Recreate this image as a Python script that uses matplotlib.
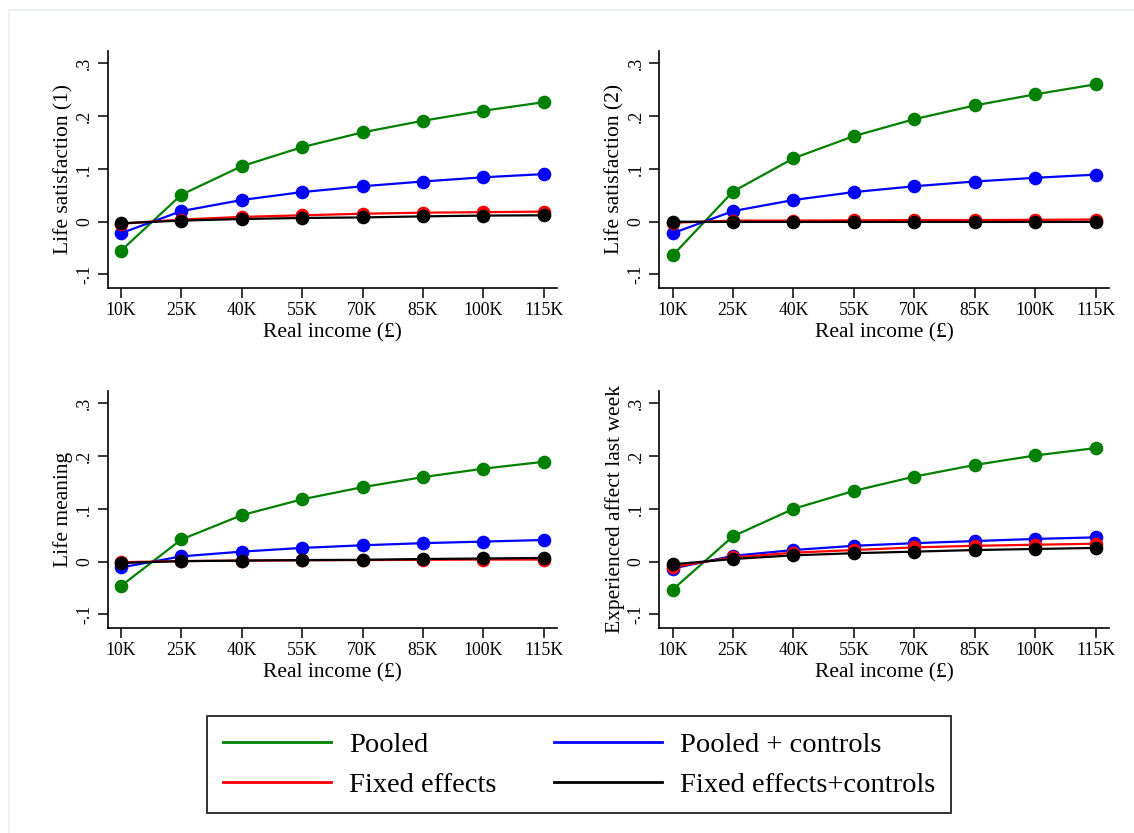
import matplotlib
matplotlib.use("Agg")
import matplotlib.pyplot as plt
from matplotlib.lines import Line2D
from matplotlib.patches import Rectangle

plt.rcParams['font.family'] = ['Liberation Serif', 'DejaVu Serif']

# Income levels (thousands of pounds)
income = [10, 25, 40, 55, 70, 85, 100, 115]
tick_labels = ["10K", "25K", "40K", "55K", "70K", "85K", "100K", "115K"]

# Panel titles (y-axis labels)
ylabels = ["Life satisfaction (1)", "Life satisfaction (2)",
           "Life meaning", "Experienced affect last week"]

# Series values per panel
pooled = [
    [-0.055, 0.051, 0.105, 0.141, 0.169, 0.191, 0.210, 0.226],
    [-0.064, 0.057, 0.120, 0.162, 0.194, 0.220, 0.241, 0.260],
    [-0.046, 0.042, 0.088, 0.118, 0.141, 0.160, 0.176, 0.189],
    [-0.053, 0.048, 0.100, 0.134, 0.161, 0.183, 0.201, 0.215],
]
pooled_ctrl = [
    [-0.022, 0.020, 0.041, 0.056, 0.067, 0.076, 0.084, 0.090],
    [-0.022, 0.020, 0.041, 0.056, 0.067, 0.076, 0.083, 0.089],
    [-0.011, 0.010, 0.019, 0.026, 0.031, 0.035, 0.038, 0.041],
    [-0.013, 0.011, 0.022, 0.030, 0.035, 0.039, 0.043, 0.046],
]
fixed = [
    [-0.004, 0.004, 0.009, 0.012, 0.015, 0.017, 0.018, 0.019],
    [-0.002, 0.002, 0.002, 0.0025, 0.003, 0.003, 0.0035, 0.004],
    [-0.001, 0.001, 0.002, 0.0025, 0.003, 0.0035, 0.004, 0.004],
    [-0.010, 0.008, 0.017, 0.022, 0.027, 0.030, 0.032, 0.034],
]
fixed_ctrl = [
    [-0.003, 0.002, 0.005, 0.007, 0.008, 0.010, 0.0115, 0.012],
    [0.0, -0.0005, -0.0005, -0.0005, -0.0005, -0.0005, -0.0005, -0.0005],
    [-0.0025, 0.001, 0.002, 0.003, 0.0035, 0.005, 0.006, 0.007],
    [-0.005, 0.005, 0.012, 0.016, 0.019, 0.022, 0.024, 0.026],
]

series_names = ["Pooled", "Pooled + controls", "Fixed effects", "Fixed effects+controls"]
colors = ["#008000", "#0000ff", "#ff0000", "#000000"]

W, H = 1134, 833
fig = plt.figure(figsize=(W / 100, H / 100), dpi=100)

# faint page border like the Stata export
fig.patches.append(Rectangle((9 / W, -0.1), 2.0, 1.1 - 10 / H, transform=fig.transFigure,
                             fill=False, edgecolor="#e8eeee", linewidth=1.2))

# axes boxes in pixels: left, top, right, bottom
boxes = [(107.7, 51, 557, 287.7), (659.3, 51, 1109, 287.7),
         (107.7, 391, 557, 627.7), (659.3, 391, 1109, 627.7)]

for i, (l, t, r, b) in enumerate(boxes):
    ax = fig.add_axes([l / W, 1 - b / H, (r - l) / W, (b - t) / H])
    data = [pooled[i], pooled_ctrl[i], fixed[i], fixed_ctrl[i]]
    for vals, c in zip(data, colors):
        ax.plot(income, vals, color=c, lw=1.6, marker="o", ms=8.8, zorder=3)
    ax.set_xlim(6.7, 118.3)
    ax.set_ylim(-0.125, 0.323)
    ax.set_xticks(income)
    ax.set_xticklabels(tick_labels, fontsize=12.8)
    ax.set_yticks([-0.1, 0, 0.1, 0.2, 0.3])
    ax.set_yticklabels(["-.1", "0", ".1", ".2", ".3"], fontsize=12.8,
                       rotation=90, va="center")
    ax.spines["top"].set_visible(False)
    ax.spines["right"].set_visible(False)
    for s in ("left", "bottom"):
        ax.spines[s].set_linewidth(1.2)
    ax.tick_params(axis="both", length=7, width=1.1, pad=3.5)
    ax.set_xlabel("Real income (£)", fontsize=15.5, labelpad=2.5)
    ax.set_ylabel(ylabels[i], fontsize=15.5, labelpad=2)

# legend, column-wise order: Pooled, Fixed effects | Pooled + controls, FE+controls
order = [0, 2, 1, 3]
handles = [Line2D([], [], color=colors[k], lw=2) for k in order]
labels = [series_names[k] for k in order]
leg = fig.legend(handles, labels, ncol=2, loc="upper left",
                 bbox_to_anchor=(207 / W, 1 - 812 / H, (951 - 207) / W, (812 - 716) / H),
                 mode="expand", fontsize=20.5, handlelength=3.8, handletextpad=0.63,
                 columnspacing=1.8, borderpad=0.55, labelspacing=0.5,
                 fancybox=False, frameon=True, borderaxespad=0)
leg.get_frame().set_edgecolor("black")
leg.get_frame().set_linewidth(1.4)

fig.savefig("out.png", dpi=100, facecolor="white")
